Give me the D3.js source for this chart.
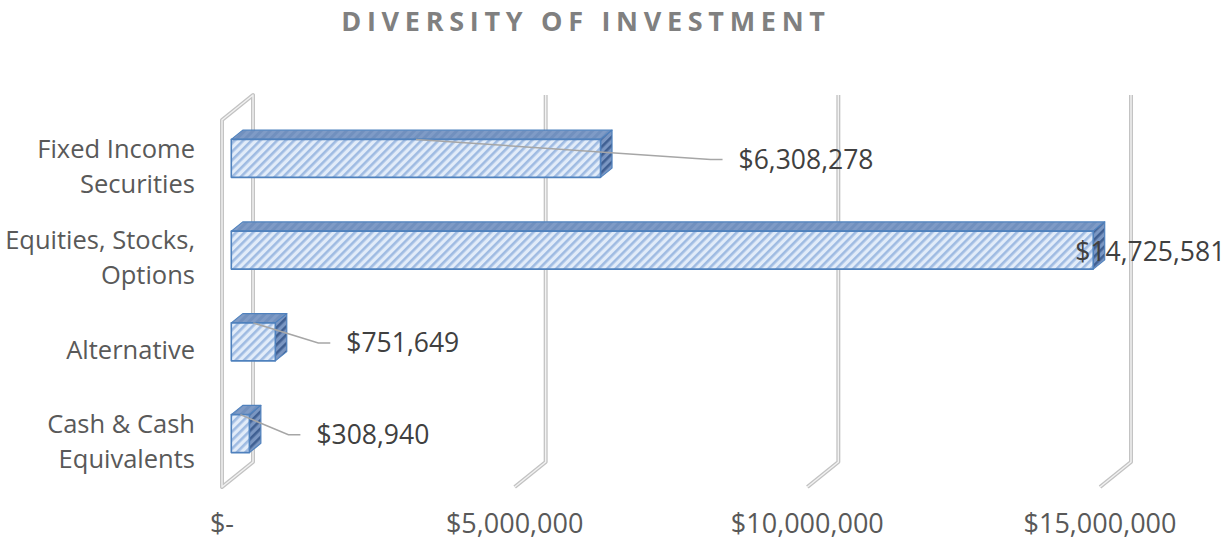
<!DOCTYPE html>
<html>
<head>
<meta charset="utf-8">
<script src="https://cdn.jsdelivr.net/npm/d3@7"></script>
<style>
  body { margin: 0; background: #fff; }
  svg { display: block; font-family: "Open Sans", sans-serif; }
</style>
</head>
<body>
<svg id="chart" width="1225" height="540"></svg>
<script>
// data
var categories = ["Fixed Income Securities", "Equities, Stocks, Options", "Alternative", "Cash & Cash Equivalents"];
var categoryLines = [["Fixed Income", "Securities"], ["Equities, Stocks,", "Options"], ["Alternative"], ["Cash & Cash", "Equivalents"]];
var values = [6308278, 14725581, 751649, 308940];
var tickValues = [0, 5000000, 10000000, 15000000];
var tickLabels = ["$-", "$5,000,000", "$10,000,000", "$15,000,000"];

var svg = d3.select("#chart");

// oblique 3d: depth d goes 0 (front) .. 1 (back wall)
var DX = 31, DY = -25;
var floorTop = 120, floorBottom = 487;
var barFront = 0.3, barBack = 0.67;

var x = d3.scaleLinear().domain([0, 15000000]).range([222, 1100]);
var y = d3.scaleBand().domain(categories).range([floorTop, floorBottom]).paddingInner(0.586).paddingOuter(0.293);

function P(px, py, d) { return [px + d * DX, py + d * DY]; }
function pts(arr) { return arr.map(function(p) { return p.join(","); }).join(" "); }

var defs = svg.append("defs");
function stripes(id, bg, fg, w) {
  var p = defs.append("pattern").attr("id", id)
    .attr("patternUnits", "userSpaceOnUse")
    .attr("width", 6).attr("height", 6)
    .attr("patternTransform", "rotate(45)");
  p.append("rect").attr("width", 6).attr("height", 6).attr("fill", bg);
  p.append("rect").attr("width", w).attr("height", 6).attr("fill", fg);
}
stripes("hatchFront", "#e2ecf9", "#9fbbe2", 2.6);
stripes("hatchSide", "#7a96c2", "#3f5f92", 2.6);
stripes("hatchTop", "#7f9bc6", "#7190be", 3);

// title
svg.append("text")
  .attr("x", 586).attr("y", 31)
  .attr("text-anchor", "middle")
  .attr("font-size", 27).attr("font-weight", "bold")
  .attr("letter-spacing", "5.7px")
  .attr("fill", "#808080")
  .text("DIVERSITY OF INVESTMENT");

// walls & gridlines (double line look)
var grid = svg.append("g");
var wallPts = [P(x(0), floorTop, 0), P(x(0), floorTop, 1), P(x(0), floorBottom, 1), P(x(0), floorBottom, 0)];
[["#c3c3c3", 4], ["#f2f2f2", 1.4]].forEach(function(s) {
  grid.append("polygon").attr("points", pts(wallPts))
    .attr("fill", "none").attr("stroke-linejoin", "round")
    .attr("stroke", s[0]).attr("stroke-width", s[1]);
});

var gl = tickValues.filter(function(v) { return v > 0; });
[["#c3c3c3", 4], ["#f2f2f2", 1.4]].forEach(function(s, i) {
  grid.selectAll("polyline.g" + i).data(gl).enter().append("polyline")
    .attr("class", "g" + i)
    .attr("points", function(v) {
      return pts([P(x(v), floorTop, 1), P(x(v), floorBottom, 1), P(x(v), floorBottom, 0)]);
    })
    .attr("fill", "none")
    .attr("stroke-linejoin", "round")
    .attr("stroke", s[0])
    .attr("stroke-width", s[1]);
});

// axis labels
svg.append("g").selectAll("text").data(tickValues).enter().append("text")
  .attr("x", function(v) { return x(v); })
  .attr("y", 533)
  .attr("text-anchor", "middle")
  .attr("font-size", 27)
  .attr("fill", "#595959")
  .text(function(v, i) { return tickLabels[i]; });

var catG = svg.append("g").selectAll("text").data(categories).enter().append("text")
  .attr("text-anchor", "end")
  .attr("font-size", 25.5)
  .attr("fill", "#595959");
catG.each(function(c, i) {
  var lines = categoryLines[i];
  var cy = y(c) + y.bandwidth() / 2;
  var lh = 35;
  var t = d3.select(this);
  lines.forEach(function(l, j) {
    t.append("tspan")
      .attr("x", 195)
      .attr("y", cy + (j - (lines.length - 1) / 2) * lh)
      .attr("dy", "0.36em")
      .text(l);
  });
});

// bars
var bars = svg.append("g").selectAll("g").data(categories).enter().append("g");
bars.each(function(c, i) {
  var g = d3.select(this);
  var x0 = x(0), x1 = x(values[i]);
  var yt = y(c), yb = y(c) + y.bandwidth();
  var stroke = "#4f81bd";
  // top face
  g.append("polygon")
    .attr("points", pts([P(x0, yt, barFront), P(x1, yt, barFront), P(x1, yt, barBack), P(x0, yt, barBack)]))
    .attr("fill", "url(#hatchTop)").attr("stroke", stroke).attr("stroke-width", 1.2).attr("stroke-linejoin", "round");
  // side face
  g.append("polygon")
    .attr("points", pts([P(x1, yt, barFront), P(x1, yt, barBack), P(x1, yb, barBack), P(x1, yb, barFront)]))
    .attr("fill", "url(#hatchSide)").attr("stroke", stroke).attr("stroke-width", 1.2).attr("stroke-linejoin", "round");
  // front face
  g.append("polygon")
    .attr("points", pts([P(x0, yt, barFront), P(x1, yt, barFront), P(x1, yb, barFront), P(x0, yb, barFront)]))
    .attr("fill", "url(#hatchFront)").attr("stroke", stroke).attr("stroke-width", 1.6).attr("stroke-linejoin", "round");
});

// data labels, offset from bar end the way Excel placed them
var labelShift = [138, -18, 71, 67];
var fmt = d3.format(",");
var labels = svg.append("g");
categories.forEach(function(c, i) {
  var yt = y(c), ym = y(c) + y.bandwidth() / 2;
  var front = P(x(values[i]), ym, barFront);
  var lx = front[0] + labelShift[i], ly = front[1] + 1;
  if (labelShift[i] > 0) {
    var start = P((x(0) + x(values[i])) / 2, yt, barFront);
    labels.append("polyline")
      .attr("points", pts([start, [lx - 28, ly], [lx - 16, ly]]))
      .attr("fill", "none").attr("stroke", "#a6a6a6").attr("stroke-width", 1.5);
  }
  labels.append("text")
    .attr("x", lx).attr("y", ly).attr("dy", "0.36em")
    .attr("font-size", 26.5)
    .attr("fill", "#404040")
    .text("$" + fmt(values[i]));
});
</script>
</body>
</html>
